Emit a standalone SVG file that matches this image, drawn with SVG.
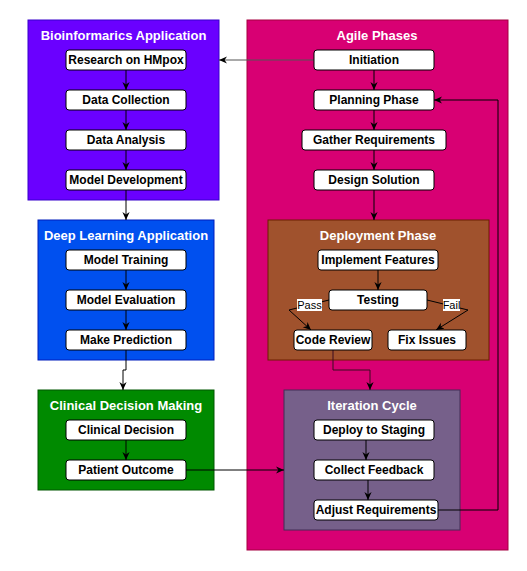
<svg xmlns="http://www.w3.org/2000/svg" width="527" height="571" viewBox="0 0 527 571">
<style>
.t{font-family:"Liberation Sans",Arial,sans-serif;font-weight:bold;font-size:13px;fill:#fff;text-anchor:middle}
.n rect{fill:#fff;stroke:#000;stroke-width:1}
.n text{font-family:"Liberation Sans",Arial,sans-serif;font-weight:bold;font-size:12px;fill:#000;text-anchor:middle}
.e{fill:none;stroke:#000;stroke-width:1;marker-end:url(#arr)}
.lb{font-family:"Liberation Sans",Arial,sans-serif;font-size:11px;fill:#000;text-anchor:middle}
</style>
<defs>
<marker id="arr" viewBox="0 0 10 10" refX="10" refY="5" markerWidth="8" markerHeight="9" markerUnits="userSpaceOnUse" orient="auto"><path d="M0,0.5 L10,5 L0,9.5 L3,5 z" fill="#000"/></marker>
</defs>
<rect width="527" height="571" fill="#fff"/>

<g id="containers">
<g id="bioinformatics"><rect x="28" y="20" width="191" height="180" fill="#6A00FF" stroke="#3700CC"/><text class="t" x="123.5" y="40">Bioinformarics Application</text></g>
<g id="deeplearning"><rect x="38" y="220" width="176" height="140" fill="#0050EF" stroke="#001DBC"/><text class="t" x="126" y="240">Deep Learning Application</text></g>
<g id="clinical"><rect x="38" y="390" width="176" height="100" fill="#008A00" stroke="#005700"/><text class="t" x="126" y="410">Clinical Decision Making</text></g>
<g id="agile"><rect x="247" y="20" width="261" height="530" fill="#D80073" stroke="#A50040"/><text class="t" x="377" y="40">Agile Phases</text></g>
<g id="deployment"><rect x="268" y="220" width="221" height="140" fill="#A0522D" stroke="#6D1F00"/><text class="t" x="378" y="240">Deployment Phase</text></g>
<g id="iteration"><rect x="284" y="390" width="176" height="140" fill="#76608A" stroke="#432D57"/><text class="t" x="372" y="410">Iteration Cycle</text></g>
</g>

<g id="connectors">
<path class="e" d="M126,70 V90"/>
<path class="e" d="M126,110 V130"/>
<path class="e" d="M126,150 V170"/>
<path class="e" d="M126,190 V220"/>
<path class="e" d="M126,270 V290"/>
<path class="e" d="M126,310 V330"/>
<path class="e" d="M126,350 V370 H123 V390"/>
<path class="e" d="M126,440 V460"/>
<path class="e" d="M186,470 H284"/>
<path class="e" d="M314,60 H219" style="stroke:#555"/>
<path class="e" d="M374,70 V90"/>
<path class="e" d="M374,110 V130"/>
<path class="e" d="M374,150 V170"/>
<path class="e" d="M374,190 V220"/>
<path class="e" d="M378,270 V290"/>
<path class="e" d="M329,300 L289,310 L311,330"/>
<path class="e" d="M427,300 L468,310 L436,330"/>
<path class="e" d="M333,350 V370 H370 V390" style="stroke:#3a0a20"/>
<path class="e" d="M366,440 V460"/>
<path class="e" d="M368,480 V500"/>
<path class="e" d="M438,510 H498 V100 H434"/>
<rect x="297" y="299" width="25" height="12" fill="#fff"/>
<text class="lb" x="309.5" y="309">Pass</text>
<rect x="443" y="299" width="17" height="12" fill="#fff"/>
<text class="lb" x="451.5" y="309">Fail</text>
</g>

<g id="n-research" class="n"><rect x="66" y="50" width="120" height="20" rx="3"/><text x="126" y="64">Research on HMpox</text></g>
<g id="n-datacollection" class="n"><rect x="66" y="90" width="120" height="20" rx="3"/><text x="126" y="104">Data Collection</text></g>
<g id="n-dataanalysis" class="n"><rect x="66" y="130" width="120" height="20" rx="3"/><text x="126" y="144">Data Analysis</text></g>
<g id="n-modeldev" class="n"><rect x="66" y="170" width="120" height="20" rx="3"/><text x="126" y="184">Model Development</text></g>
<g id="n-modeltraining" class="n"><rect x="66" y="250" width="120" height="20" rx="3"/><text x="126" y="264">Model Training</text></g>
<g id="n-modeleval" class="n"><rect x="66" y="290" width="120" height="20" rx="3"/><text x="126" y="304">Model Evaluation</text></g>
<g id="n-makepred" class="n"><rect x="66" y="330" width="120" height="20" rx="3"/><text x="126" y="344">Make Prediction</text></g>
<g id="n-clinicaldecision" class="n"><rect x="66" y="420" width="120" height="20" rx="3"/><text x="126" y="434">Clinical Decision</text></g>
<g id="n-patientoutcome" class="n"><rect x="66" y="460" width="120" height="20" rx="3"/><text x="126" y="474">Patient Outcome</text></g>
<g id="n-initiation" class="n"><rect x="314" y="50" width="120" height="20" rx="3"/><text x="374" y="64">Initiation</text></g>
<g id="n-planning" class="n"><rect x="314" y="90" width="120" height="20" rx="3"/><text x="374" y="104">Planning Phase</text></g>
<g id="n-gather" class="n"><rect x="302" y="130" width="144" height="20" rx="3"/><text x="374" y="144">Gather Requirements</text></g>
<g id="n-design" class="n"><rect x="314" y="170" width="120" height="20" rx="3"/><text x="374" y="184">Design Solution</text></g>
<g id="n-implement" class="n"><rect x="318" y="250" width="120" height="20" rx="3"/><text x="378" y="264">Implement Features</text></g>
<g id="n-testing" class="n"><rect x="329" y="290" width="98" height="20" rx="3"/><text x="378" y="303.5">Testing</text></g>
<g id="n-codereview" class="n"><rect x="294" y="330" width="78" height="20" rx="3"/><text x="333" y="344">Code Review</text></g>
<g id="n-fixissues" class="n"><rect x="388" y="330" width="78" height="20" rx="3"/><text x="427" y="344">Fix Issues</text></g>
<g id="n-deploy" class="n"><rect x="314" y="420" width="120" height="20" rx="3"/><text x="374" y="434">Deploy to Staging</text></g>
<g id="n-collect" class="n"><rect x="314" y="460" width="120" height="20" rx="3"/><text x="374" y="474">Collect Feedback</text></g>
<g id="n-adjust" class="n"><rect x="314" y="500" width="124" height="20" rx="3"/><text x="376" y="514">Adjust Requirements</text></g>
</svg>
